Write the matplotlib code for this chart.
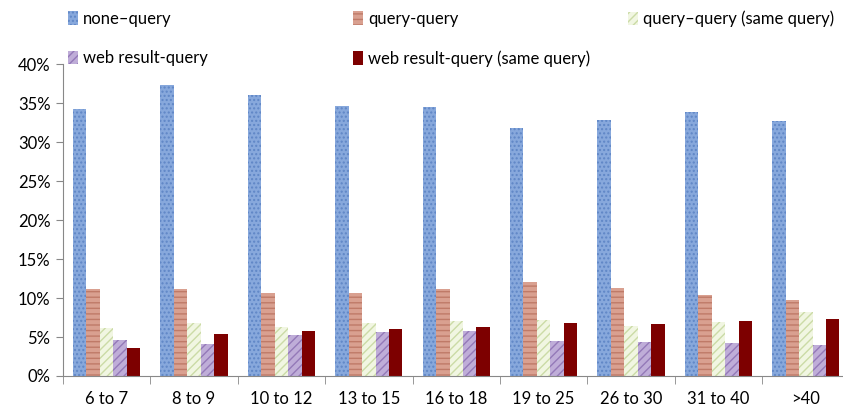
import matplotlib
matplotlib.use("Agg")
import matplotlib.pyplot as plt
import numpy as np
from matplotlib.ticker import PercentFormatter

plt.rcParams['font.family'] = ['Lato', 'DejaVu Sans']
plt.rcParams['hatch.linewidth'] = 1.0

groups = ["6 to 7", "8 to 9", "10 to 12", "13 to 15", "16 to 18",
          "19 to 25", "26 to 30", "31 to 40", ">40"]
none_query = [34.3, 37.3, 36.0, 34.6, 34.5, 31.8, 32.8, 33.8, 32.7]
query_query = [11.1, 11.2, 10.6, 10.7, 11.2, 12.0, 11.3, 10.35, 9.75]
query_same = [6.15, 6.8, 6.3, 6.8, 7.0, 7.2, 6.45, 6.95, 8.2]
web_query = [4.6, 4.1, 5.2, 5.6, 5.8, 4.5, 4.4, 4.2, 4.0]
web_same = [3.65, 5.4, 5.8, 6.0, 6.3, 6.8, 6.7, 7.05, 7.35]

series = [
    ("none\u2013query", none_query, "#87a8dc", "#5f86c6", "...."),
    ("query-query", query_query, "#d9a090", "#bf7a68", "---"),
    ("query\u2013query (same query)", query_same, "#f1f6e2", "#cbdba6", "////"),
    ("web result-query", web_query, "#bfadd8", "#9479b8", "////"),
    ("web result-query (same query)", web_same, "#7d0000", "#7d0000", None),
]

fig = plt.figure(figsize=(8.43, 4.12), dpi=100)
ax = fig.add_axes([0.0747, 0.0874, 0.933, 0.757])

x = np.arange(len(groups))
w = 0.154
handles = []
for i, (label, vals, fc, hc, hatch) in enumerate(series):
    b = ax.bar(x + (i - 2) * w, vals, w, facecolor=fc, edgecolor=hc,
               hatch=hatch, linewidth=0, label=label)
    handles.append(b)

ax.set_xlim(-0.5, len(groups) - 0.5)
ax.set_ylim(0, 40)
ax.set_yticks(np.arange(0, 41, 5))
ax.yaxis.set_major_formatter(PercentFormatter(decimals=0))
ax.set_xticks(x)
ax.set_xticklabels(groups)
ax.set_xticks(np.arange(-0.5, len(groups), 1), minor=True)
ax.tick_params(axis='x', which='major', length=0, pad=11, labelsize=12)
ax.tick_params(axis='x', which='minor', length=6, color='#888888', direction='out')
ax.tick_params(axis='y', length=5, color='#888888', labelsize=12, pad=4)
for s in ['top', 'right']:
    ax.spines[s].set_visible(False)
ax.spines['left'].set_color('#888888')
ax.spines['bottom'].set_color('#888888')

# legend in three columns at fixed positions
cols = [([handles[0], handles[3]], 0.073), ([handles[1], handles[4]], 0.411),
        ([handles[2]], 0.737)]
for hs, xpos in cols:
    leg = fig.legend(hs, [h.get_label() for h in hs], loc='upper left',
                     bbox_to_anchor=(xpos, 0.99), frameon=False, fontsize=12,
                     handlelength=0.6, handleheight=0.85, handletextpad=0.3,
                     labelspacing=1.4, borderaxespad=0)

fig.savefig("out.png", dpi=100)
